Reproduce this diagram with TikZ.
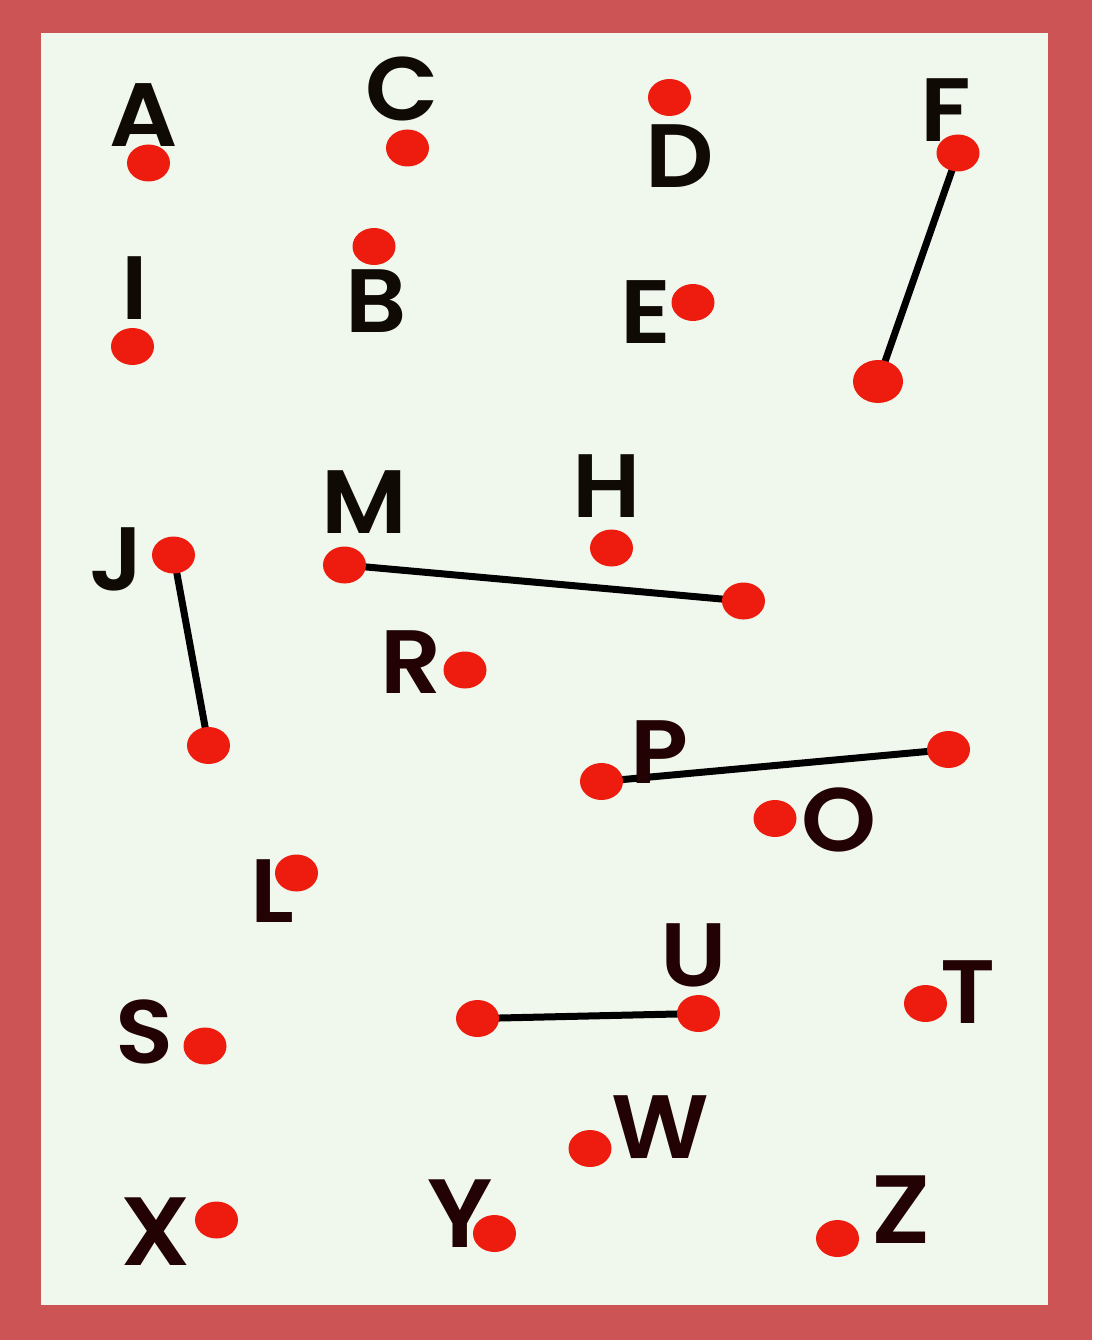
\documentclass[tikz,border=0pt]{standalone}
\usepackage{fontspec}
\setmainfont{Poppins}
\IfFontExistsTF{Poppins SemiBold}
  {\newfontfamily\lblfont{Poppins SemiBold}[FakeStretch=1.06]}
  {\IfFontExistsTF{Poppins Medium}
     {\newfontfamily\lblfont{Poppins Medium}[FakeStretch=1.06]}
     {\newfontfamily\lblfont{Poppins}[UprightFont=*-Bold]}}
\usetikzlibrary{shapes.geometric,backgrounds}
\definecolor{framered}{HTML}{CD5454}
\definecolor{paper}{HTML}{F0F8EE}
\definecolor{dotred}{HTML}{EE1C0E}
\definecolor{inkA}{HTML}{100A04}
\definecolor{inkB}{HTML}{220202}
\tikzset{
  dot/.style={shape=ellipse,fill=dotred,draw=none,inner sep=0pt,minimum width=43pt,minimum height=37pt},
  bigdot/.style={dot,minimum width=50pt,minimum height=43pt},
  lbl/.style={anchor=base,inner sep=0pt,text=inkA,font=\lblfont\fontsize{90}{90}\selectfont},
  lblb/.style={lbl,text=inkB},
  lblbig/.style={lblb,font=\lblfont\fontsize{97}{97}\selectfont},
  link/.style={draw=black,line width=7pt,line cap=round}
}
\begin{document}
\begin{tikzpicture}[x=1pt,y=-1pt]
\useasboundingbox (0,0) rectangle (1092,1340);
% letters
\node[lbl] (A) at (144,147) {A};
\node[lbl] (C) at (402,121) {C};
\node[lbl] (D) at (679.5,188) {D};
\node[lbl] (F) at (946,142) {F};
\node[lbl] (I) at (134.5,319) {I};
\node[lbl] (B) at (376,332) {B};
\node[lbl] (E) at (646,343) {E};
\node[lbl] (H) at (606.5,517) {H};
\node[lbl] (M) at (364.5,533) {M};
\node[lbl] (J) at (117,590) {J};
\node[lblb] (R) at (411,693) {R};
\node[lblb] (P) at (659,783) {P};
\node[lblb] (O) at (838.5,851) {O};
\node[lblb] (L) at (272,922) {L};
\node[lblb] (S) at (144.5,1063) {S};
\node[lblbig] (X) at (156,1265) {X};
\node[lblb] (U) at (694,986) {U};
\node[lblb] (T) at (968,1023) {T};
\node[lblb] (W) at (660,1158) {W};
\node[lblbig] (Y) at (460,1247) {Y};
\node[lblbig] (Z) at (901,1243) {Z};
% dots
\node[dot] (dA) at (148.5,163) {};
\node[dot] (dC) at (407.5,148) {};
\node[dot] (dD) at (669.5,97.5) {};
\node[dot] (dF) at (958,153) {};
\node[bigdot] (dF2) at (878,381.5) {};
\node[dot] (dI) at (132.5,346.5) {};
\node[dot] (dB) at (374,246.5) {};
\node[dot] (dE) at (693,302.5) {};
\node[dot] (dH) at (611.5,548) {};
\node[dot] (dJ) at (173.5,555) {};
\node[dot] (dJ2) at (208.5,745.5) {};
\node[dot] (dM) at (344.5,565) {};
\node[dot] (dM2) at (743.5,601) {};
\node[dot] (dR) at (465,670) {};
\node[dot] (dP) at (601.5,781.5) {};
\node[dot] (dP2) at (948.5,749.5) {};
\node[dot] (dO) at (775,818.5) {};
\node[dot] (dL) at (296.5,873) {};
\node[dot] (dS) at (205,1046) {};
\node[dot] (dX) at (216.5,1220) {};
\node[dot] (dU2) at (477.5,1018.5) {};
\node[dot] (dU) at (698.5,1013.5) {};
\node[dot] (dT) at (925.5,1003.5) {};
\node[dot] (dW) at (590,1148.5) {};
\node[dot] (dY) at (494.5,1233.5) {};
\node[dot] (dZ) at (837.5,1238.5) {};
% frame and connectors behind the dots
\begin{pgfonlayer}{background}
\fill[framered] (0,0) rectangle (1092,1340);
\fill[paper] (41,33) rectangle (1048,1305);
\draw[link] (dF.center) -- (dF2.center);
\draw[link] (dJ.center) -- (dJ2.center);
\draw[link] (dM.center) -- (dM2.center);
\draw[link] (dP.center) -- (dP2.center);
\draw[link] (dU2.center) -- (dU.center);
\end{pgfonlayer}
\end{tikzpicture}
\end{document}
